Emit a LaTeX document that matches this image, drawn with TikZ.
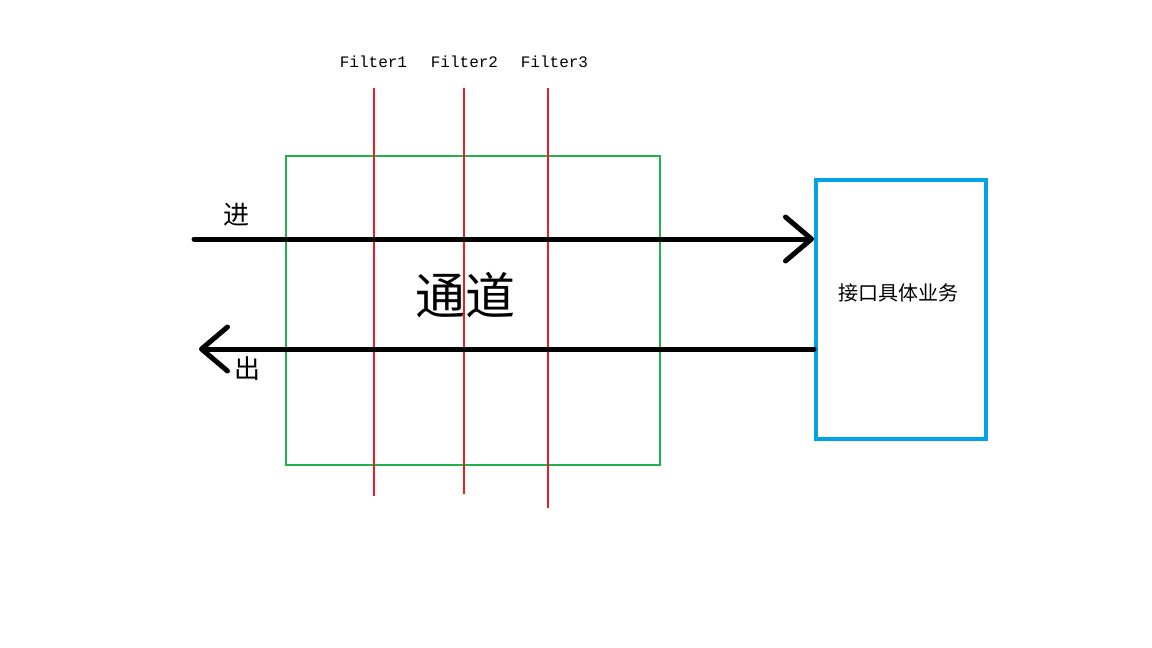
\documentclass[tikz,border=0pt]{standalone}
\usepackage{fontspec}
\setmonofont{Liberation Mono}
\newfontfamily\cjk{Noto Sans CJK SC}
\usepackage{tikz}
\usetikzlibrary{arrows.meta}
\usetikzlibrary{calc}

\definecolor{paintred}{RGB}{237,28,36}
\definecolor{paintgreen}{RGB}{34,177,76}
\definecolor{paintblue}{RGB}{0,162,232}

\begin{document}
\begin{tikzpicture}[x=1pt,y=-1pt]
      \tikzstyle{flow}  = [line width=5pt,draw=black,line cap=round,
        -{Straight Barb[length=26pt,width=44pt,line width=5pt,round]}]
      \tikzstyle{filter} = [draw=paintred,line width=2pt]
      \tikzstyle{flabel} = [font=\ttfamily\fontsize{16}{18}\selectfont,anchor=center]
      \tikzstyle{box}=[
        rectangle,
        anchor=center,
        inner sep=0pt,
      ]
      \useasboundingbox (0,0) rectangle (1152,648);

      \node[box, draw=paintgreen, line width=2pt, minimum width=374pt, minimum height=309pt] (channel) at (473,310.5) {};
      \node[box, draw=paintblue, line width=4pt, minimum width=170pt, minimum height=259pt] (biz) at (901,309.5) {};

      \node[font=\cjk\fontsize{50}{54}\selectfont] (chname) at (465,295) {通道};
      \node[font=\cjk\fontsize{20}{24}\selectfont] (bizname) at (898,293) {接口具体业务};
      \node[font=\cjk\fontsize{26}{28}\selectfont] (inlabel) at (236,215) {进};
      \node[font=\cjk\fontsize{26}{28}\selectfont] (outlabel) at (247,369) {出};

      % filters
      \foreach \i/\x/\b/\t in {1/374/496/373.5, 2/464/494/464.5, 3/548/508/554.5} {
        \node[flabel] (fl\i) at (\t,62) {Filter\i};
        \coordinate (ftop\i) at (\x,88);
        \coordinate (fbot\i) at (\x,\b);
        \draw[filter] (ftop\i)--(fbot\i);
      }

      \coordinate (instart) at (194,239);
      \coordinate (outend) at (199,349);
      \draw[flow] (instart)--(biz.west |- instart);
      \draw[flow] (biz.west |- outend)--(outend);
    \end{tikzpicture}
\end{document}
